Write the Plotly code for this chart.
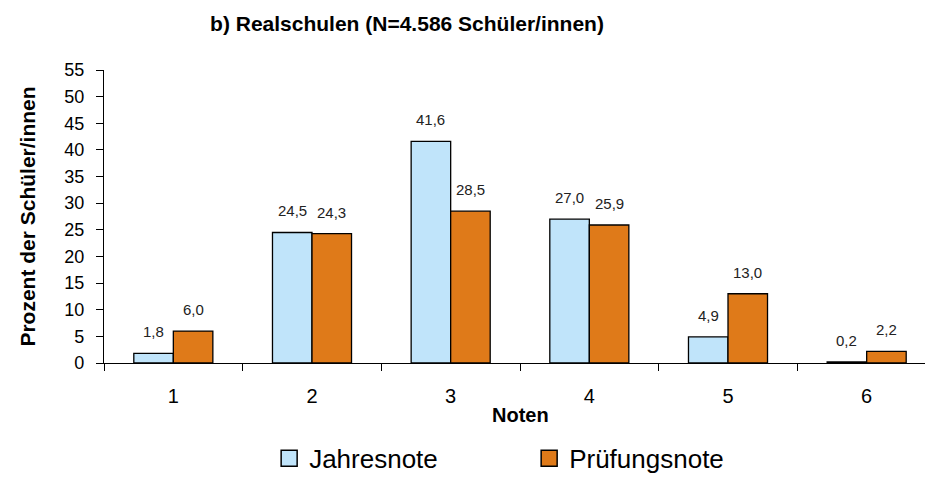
import plotly.graph_objects as go

# Noten 1..6, Anteil der Schüler/innen in Prozent
noten = ["1", "2", "3", "4", "5", "6"]
jahresnote = [1.8, 24.5, 41.6, 27.0, 4.9, 0.2]
pruefungsnote = [6.0, 24.3, 28.5, 25.9, 13.0, 2.2]
y_ticks = list(range(0, 60, 5))

font_fam = "Arial, Liberation Sans, sans-serif"
col_jahr = "#C0E4FA"
col_pruef = "#DF7A19"

# Balkenbreite in px (fuer die Verschiebung der Wertelabels)
plot_w = 933 - 96 - 5
bargap = 0.43
half_bar = plot_w / len(noten) * (1 - bargap) / 4

fig = go.Figure()
series = [("Jahresnote", jahresnote, col_jahr, -half_bar),
          ("Prüfungsnote", pruefungsnote, col_pruef, half_bar)]
for name, vals, col, shift in series:
    fig.add_trace(go.Bar(
        x=noten, y=vals, name=name, showlegend=False,
        marker=dict(color=col, line=dict(color="black", width=1.3)),
    ))
    # eigener Legendeneintrag mit größerem Quadrat
    fig.add_trace(go.Scatter(
        x=[None], y=[None], mode="markers", name=name,
        marker=dict(symbol="square", size=17, color=col,
                    line=dict(color="black", width=1.5)),
    ))
    # Wertelabels etwas über den Balken (Kategorieindex auf der x-Achse)
    for i, v in enumerate(vals):
        fig.add_annotation(
            x=i, y=v, text=f"{v:.1f}".replace(".", ","), showarrow=False,
            xshift=shift, yshift=11, yanchor="bottom",
            font=dict(size=15, color="#222"),
        )

fig.add_annotation(
    x=0.5, xref="paper", y=0, yref="paper", yshift=-52, yanchor="middle",
    text="<b>Noten</b>", showarrow=False, font=dict(size=20),
)

fig.update_layout(
    width=933, height=479,
    margin=dict(l=96, r=5, t=62, b=113),
    paper_bgcolor="white", plot_bgcolor="white",
    barmode="group", bargap=bargap, bargroupgap=0,
    font=dict(family=font_fam, color="black"),
    title=dict(text="<b>b) Realschulen (N=4.586 Schüler/innen)</b>",
               x=399 / 933, xanchor="center", y=0.982, yanchor="top",
               font=dict(size=21)),
    legend=dict(orientation="h", x=0.511, xanchor="center", y=-0.245, yanchor="top",
                font=dict(size=26), itemwidth=30, entrywidth=215,
                bgcolor="rgba(0,0,0,0)"),
    xaxis=dict(
        type="category", showline=True, linecolor="black", linewidth=1.3,
        ticks="outside", tickson="boundaries", ticklen=7, tickcolor="black",
        tickfont=dict(size=20), showgrid=False, ticklabelstandoff=15,
        range=[-0.5, len(noten) - 0.5],
    ),
    yaxis=dict(
        range=[0, 55], tickvals=y_ticks, showline=True, linecolor="black",
        linewidth=1.3, ticks="outside", ticklen=7, tickcolor="black",
        tickfont=dict(size=18), showgrid=False, zeroline=False,
        ticklabelstandoff=8,
        title=dict(text="<b>Prozent der Schüler/innen</b>", font=dict(size=21),
                   standoff=22),
    ),
)

fig.write_html("out.html")
